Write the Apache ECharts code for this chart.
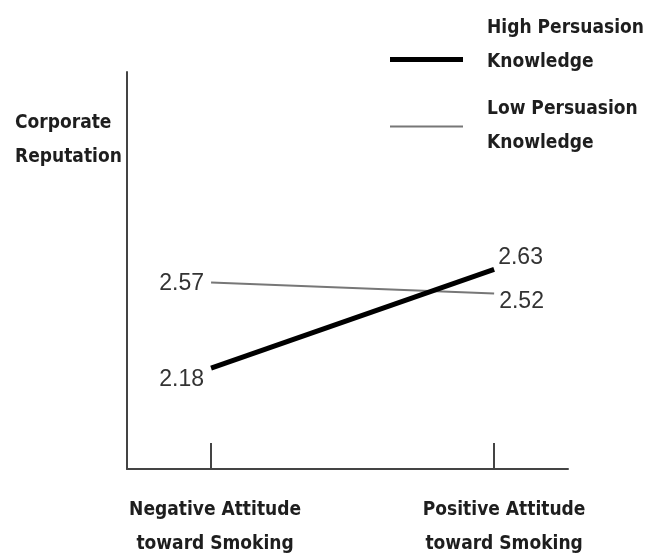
<!DOCTYPE html>
<html>
<head>
<meta charset="utf-8">
<script src="https://cdn.jsdelivr.net/npm/echarts@6/dist/echarts.min.js"></script>
<style>
  html, body { margin: 0; padding: 0; background: #fff; }
  #chart { width: 651px; height: 556px; }
</style>
</head>
<body>
<div id="chart"></div>
<script>
const categories = ['Negative Attitude\ntoward Smoking', 'Positive Attitude\ntoward Smoking']
const seriesNames = ['High Persuasion\nKnowledge', 'Low Persuasion\nKnowledge']
const highPK = [2.18, 2.63]
const lowPK = [2.57, 2.52]

const FONT = '"DejaVu Sans Condensed", "Liberation Sans", Arial, sans-serif'
const NUM_FONT = '"Liberation Sans", Arial, sans-serif'

const chart = echarts.init(document.getElementById('chart'))

const textStyle = { fontFamily: FONT, fontSize: 19, fontWeight: 'bold', color: '#1e1e1e', lineHeight: 34 }

// legend text as rich lines; the first item gets a spacer so its icon sits by the second line
const legendFormatter = spacer => name =>
  name.split('\n').map(s => '{t|' + s + '}').join('\n') + (spacer ? '\n{g|}' : '')

const legendRich = {
  t: Object.assign({}, textStyle, { padding: [0, 0, 0, 19] }),
  g: { height: 28, lineHeight: 28 }
}

const toPoints = vals => vals.map((v, i) => [i, v])

const option = {
  animation: false,
  title: {
    text: 'Corporate\nReputation',
    left: 15,
    top: 106,
    padding: 0,
    textStyle: textStyle
  },
  legend: [
    {
      data: [seriesNames[0]],
      left: 390,
      top: 19,
      padding: 0,
      icon: 'rect',
      itemWidth: 73,
      itemHeight: 5,
      formatter: legendFormatter(true),
      textStyle: { rich: legendRich }
    },
    {
      data: [seriesNames[1]],
      left: 390,
      top: 100,
      padding: 0,
      icon: 'rect',
      itemWidth: 73,
      itemHeight: 2,
      formatter: legendFormatter(false),
      textStyle: { rich: legendRich }
    }
  ],
  grid: { left: 127, right: 83, top: 72, bottom: 87, outerBoundsMode: 'none' },
  xAxis: {
    type: 'value',
    min: -0.297,
    max: 1.261,
    splitLine: { show: false },
    axisLine: { show: true, onZero: false, lineStyle: { color: '#444', width: 2 } },
    axisTick: { show: true, inside: true, length: 26, customValues: [0, 1], lineStyle: { color: '#444', width: 2 } },
    axisLabel: Object.assign({
      customValues: [0, 1],
      // labels sit a little right of their ticks in the figure
      formatter: v => {
        const i = Math.round(v)
        const key = i === 0 ? 'a' : 'b'
        return categories[i].split('\n').map(s => '{' + key + '|' + s + '}').join('\n')
      },
      margin: 24,
      rich: {
        a: Object.assign({}, textStyle, { padding: [0, 0, 0, 8] }),
        b: Object.assign({}, textStyle, { padding: [0, 0, 0, 20] })
      }
    }, textStyle)
  },
  yAxis: {
    type: 'value',
    min: 1.72,
    max: 3.53,
    splitLine: { show: false },
    axisLine: { show: true, onZero: false, lineStyle: { color: '#444', width: 2 } },
    axisTick: { show: false },
    axisLabel: { show: false }
  },
  series: [
    {
      name: seriesNames[0],
      type: 'line',
      symbol: 'circle',
      symbolSize: 0.1,
      lineStyle: { color: '#000', width: 5 },
      itemStyle: { color: '#000' },
      label: { show: true, fontFamily: NUM_FONT, fontSize: 23, color: '#333' },
      emphasis: { disabled: true },
      z: 3
    },
    {
      name: seriesNames[1],
      type: 'line',
      symbol: 'circle',
      symbolSize: 0.1,
      lineStyle: { color: '#777', width: 2 },
      itemStyle: { color: '#777' },
      label: { show: true, fontFamily: NUM_FONT, fontSize: 23, color: '#333' },
      emphasis: { disabled: true },
      z: 2
    }
  ]
}

// per-point label placement, like the original figure
option.series[0].data = toPoints(highPK).map((p, i) => ({
  value: p,
  label: i === 0
    ? { position: 'left', distance: 7, offset: [0, 12] }
    : { position: 'right', distance: 4, offset: [0, -12] }
}))
option.series[1].data = toPoints(lowPK).map((p, i) => ({
  value: p,
  label: i === 0
    ? { position: 'left', distance: 7, offset: [0, 1] }
    : { position: 'right', distance: 5, offset: [0, 8] }
}))

chart.setOption(option)
</script>
</body>
</html>
